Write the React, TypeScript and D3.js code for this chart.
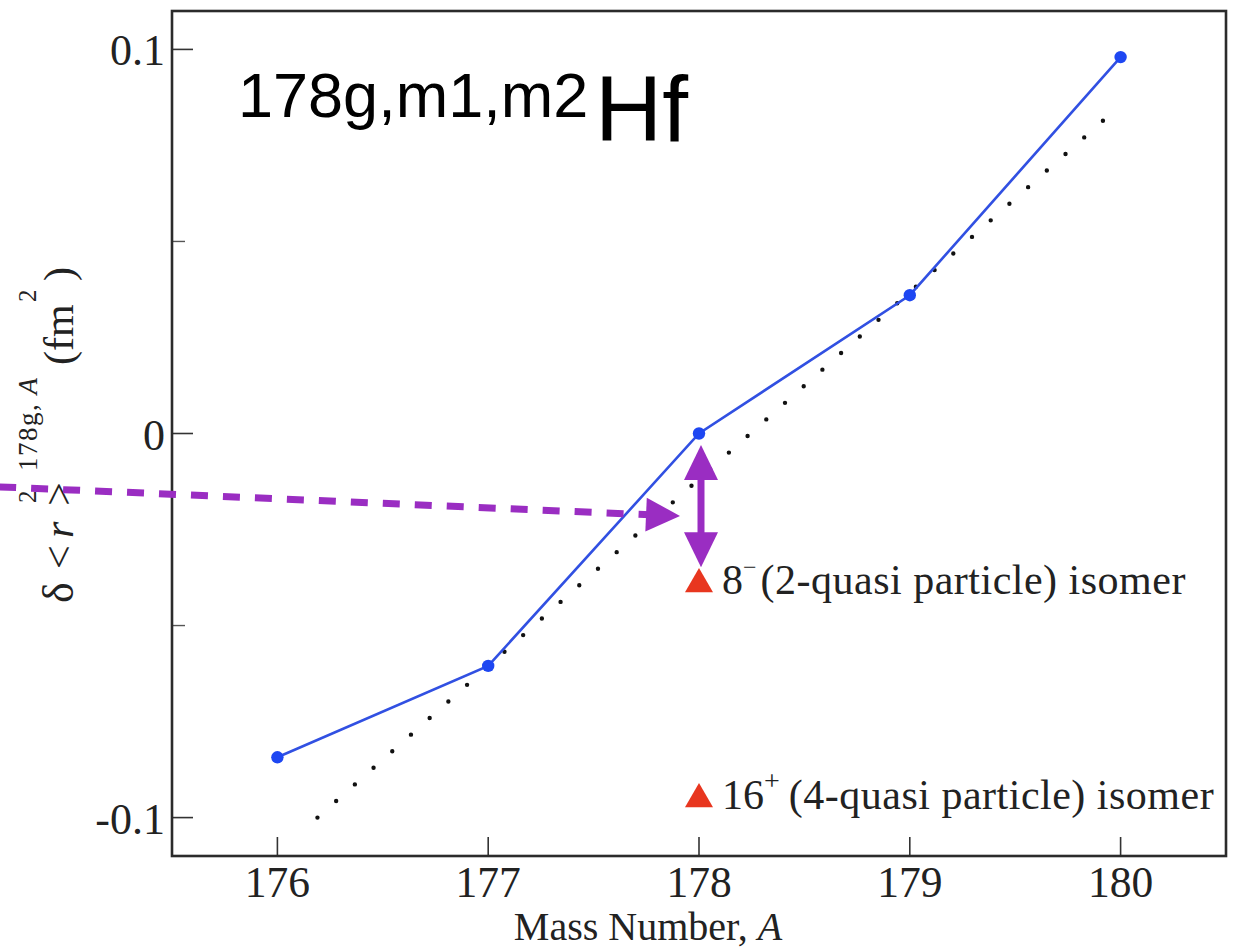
import React from "react";
import * as d3 from "d3";

// Mean-square charge radius differences along the Hf chain
const massNumbers = [176, 177, 178, 179, 180];
const deltaR2 = [-0.0843, -0.0605, 0.0, 0.036, 0.098];

// Straight-line reference (dotted) endpoints
const trendMass = [176.19, 180.0];
const trendDelta = [-0.1, 0.0855];

// Isomer points at A = 178
const isomerMass = [178, 178];
const isomerDelta = [-0.0392, -0.0952];
const isomerSpin = ["8", "16"];
const isomerParity = ["\u2212", "+"];
const isomerText = ["(2-quasi particle) isomer", "(4-quasi particle) isomer"];

// Axis ticks
const xTicks = [176, 177, 178, 179, 180];
const yTicks = [-0.1, 0, 0.1];
const yTickLabels = ["-0.1", "0", "0.1"];
const yMinorTicks = [-0.05, 0.05];

// Annotation arrows (data units)
const shiftArrowFrom = { a: 174.68, d: -0.0139 };
const shiftArrowTo = { a: 177.91, d: -0.0215 };
const gapArrowMass = 178;
const gapArrowTop = -0.003;
const gapArrowBottom = -0.0348;

const W = 1235;
const H = 949;
const plot = { left: 172, right: 1226, top: 11, bottom: 856 };

const serif = "'Liberation Serif', 'Times New Roman', serif";
const sans = "'Liberation Sans', Arial, Helvetica, sans-serif";
const purple = "#9a2dc2";

// superscript sizing / spacing for the spin-parity labels
const paritySize = [24, 28];
const parityGap = [4, 9];

function arrowHead(tipX: number, tipY: number, angle: number, len: number, half: number) {
  const bx = tipX - len * Math.cos(angle);
  const by = tipY - len * Math.sin(angle);
  const px = -Math.sin(angle) * half;
  const py = Math.cos(angle) * half;
  return `M${tipX},${tipY}L${bx + px},${by + py}L${bx - px},${by - py}Z`;
}

export default function App() {
  const x = d3.scaleLinear().domain([175.5, 180.5]).range([plot.left, plot.right]);
  const y = d3.scaleLinear().domain([-0.11, 0.11]).range([plot.bottom, plot.top]);

  const pts = massNumbers.map((a, i) => [x(a), y(deltaR2[i])] as [number, number]);
  const line = d3.line();
  const trendPath = line(trendMass.map((a, i) => [x(a), y(trendDelta[i])] as [number, number]));

  const tri = d3.symbol(d3.symbolTriangle, 340)();

  // horizontal dashed arrow
  const hx0 = x(shiftArrowFrom.a);
  const hy0 = y(shiftArrowFrom.d);
  const hx1 = x(shiftArrowTo.a);
  const hy1 = y(shiftArrowTo.d);
  const hAng = Math.atan2(hy1 - hy0, hx1 - hx0);
  const hLen = 34;
  const hShaftEndX = hx1 - (hLen - 4) * Math.cos(hAng);
  const hShaftEndY = hy1 - (hLen - 4) * Math.sin(hAng);

  // vertical double arrow
  const vx = x(gapArrowMass) + 2;
  const vTop = y(gapArrowTop);
  const vBot = y(gapArrowBottom);

  return (
    <svg
      width={W}
      height={H}
      style={{ position: "absolute", left: 0, top: 0, background: "#fff" }}
    >
      <rect x={0} y={0} width={W} height={H} fill="#fff" />

      {/* y ticks */}
      {yTicks.map((t, i) => (
        <g key={"yt" + t}>
          <line x1={plot.left} x2={plot.left + 21} y1={y(t)} y2={y(t)} stroke="#333" strokeWidth={1.6} />
          <text x={165} y={y(t) + 16} textAnchor="end" fontFamily={serif} fontSize={44} fill="#222">
            {yTickLabels[i]}
          </text>
        </g>
      ))}
      {yMinorTicks.map((t) => (
        <line key={"ym" + t} x1={plot.left} x2={plot.left + 13} y1={y(t)} y2={y(t)} stroke="#555" strokeWidth={1.4} />
      ))}

      {/* x ticks */}
      {xTicks.map((t) => (
        <g key={"xt" + t}>
          <line x1={x(t)} x2={x(t)} y1={plot.bottom} y2={plot.bottom - 19} stroke="#333" strokeWidth={1.6} />
          <text x={x(t)} y={897} textAnchor="middle" fontFamily={serif} fontSize={43.5} fill="#222">
            {t}
          </text>
        </g>
      ))}

      {/* axis titles */}
      <text x={648} y={940} textAnchor="middle" fontFamily={serif} fontSize={40} fill="#222">
        Mass Number, <tspan fontStyle="italic">A</tspan>
      </text>

      <g transform="translate(73,433) rotate(-90)" fontFamily={serif} fill="#222">
        <text x={-170} y={0} fontSize={44}>δ</text>
        <text x={-136} y={0} fontSize={42}>&lt;</text>
        <text x={-105} y={0} fontSize={42} fontStyle="italic">r</text>
        <text x={-70} y={-37} fontSize={25}>2</text>
        <text x={-73} y={0} fontSize={42}>&gt;</text>
        <text x={-38} y={-36} fontSize={27} letterSpacing={1.5}>
          178g, <tspan fontStyle="italic">A</tspan>
        </text>
        <text x={68} y={0} fontSize={42}>(fm</text>
        <text x={131} y={-37} fontSize={25}>2</text>
        <text x={152} y={0} fontSize={42}>)</text>
      </g>

      {/* dotted reference line */}
      <path
        d={trendPath ?? ""}
        fill="none"
        stroke="#111"
        strokeWidth={4.4}
        strokeLinecap="round"
        strokeDasharray="0 25"
      />

      {/* measured series */}
      <path d={line(pts) ?? ""} fill="none" stroke="#3150e2" strokeWidth={2.6} />
      {pts.map((p, i) => (
        <circle key={"pt" + i} cx={p[0]} cy={p[1]} r={6.2} fill="#1e47f2" />
      ))}

      {/* isomer markers */}
      {isomerMass.map((a, i) => (
        <g key={"iso" + i}>
          <path d={tri ?? ""} transform={`translate(${x(a)},${y(isomerDelta[i])})`} fill="#e8361f" />
          <text x={x(a) + 23} y={y(isomerDelta[i]) + 10} fontFamily={serif} fontSize={42} fill="#222">
            {isomerSpin[i]}
            <tspan fontSize={paritySize[i]} dy={-19}>{isomerParity[i]}</tspan>
            <tspan dy={19} dx={parityGap[i]} letterSpacing={0.5}>{isomerText[i]}</tspan>
          </text>
        </g>
      ))}

      {/* frame */}
      <rect
        x={plot.left}
        y={plot.top}
        width={plot.right - plot.left}
        height={plot.bottom - plot.top}
        fill="none"
        stroke="#2b2b2b"
        strokeWidth={2.6}
      />

      {/* nuclide label */}
      <text x={238} y={117} fontFamily={sans} fontSize={63} fill="#000">
        178g,m1,m2
      </text>
      <text x={595} y={141} fontFamily={sans} fontSize={93} fill="#000">
        Hf
      </text>

      {/* annotation arrows */}
      <line
        x1={hx0}
        y1={hy0}
        x2={hShaftEndX}
        y2={hShaftEndY}
        stroke={purple}
        strokeWidth={7}
        strokeDasharray="17 15"
      />
      <path d={arrowHead(hx1, hy1, hAng, hLen, 17)} fill={purple} />

      <line x1={vx} x2={vx} y1={vTop + 30} y2={vBot - 30} stroke={purple} strokeWidth={7} />
      <path d={arrowHead(vx, vTop, -Math.PI / 2, 35, 17)} fill={purple} />
      <path d={arrowHead(vx, vBot, Math.PI / 2, 35, 17)} fill={purple} />
    </svg>
  );
}
